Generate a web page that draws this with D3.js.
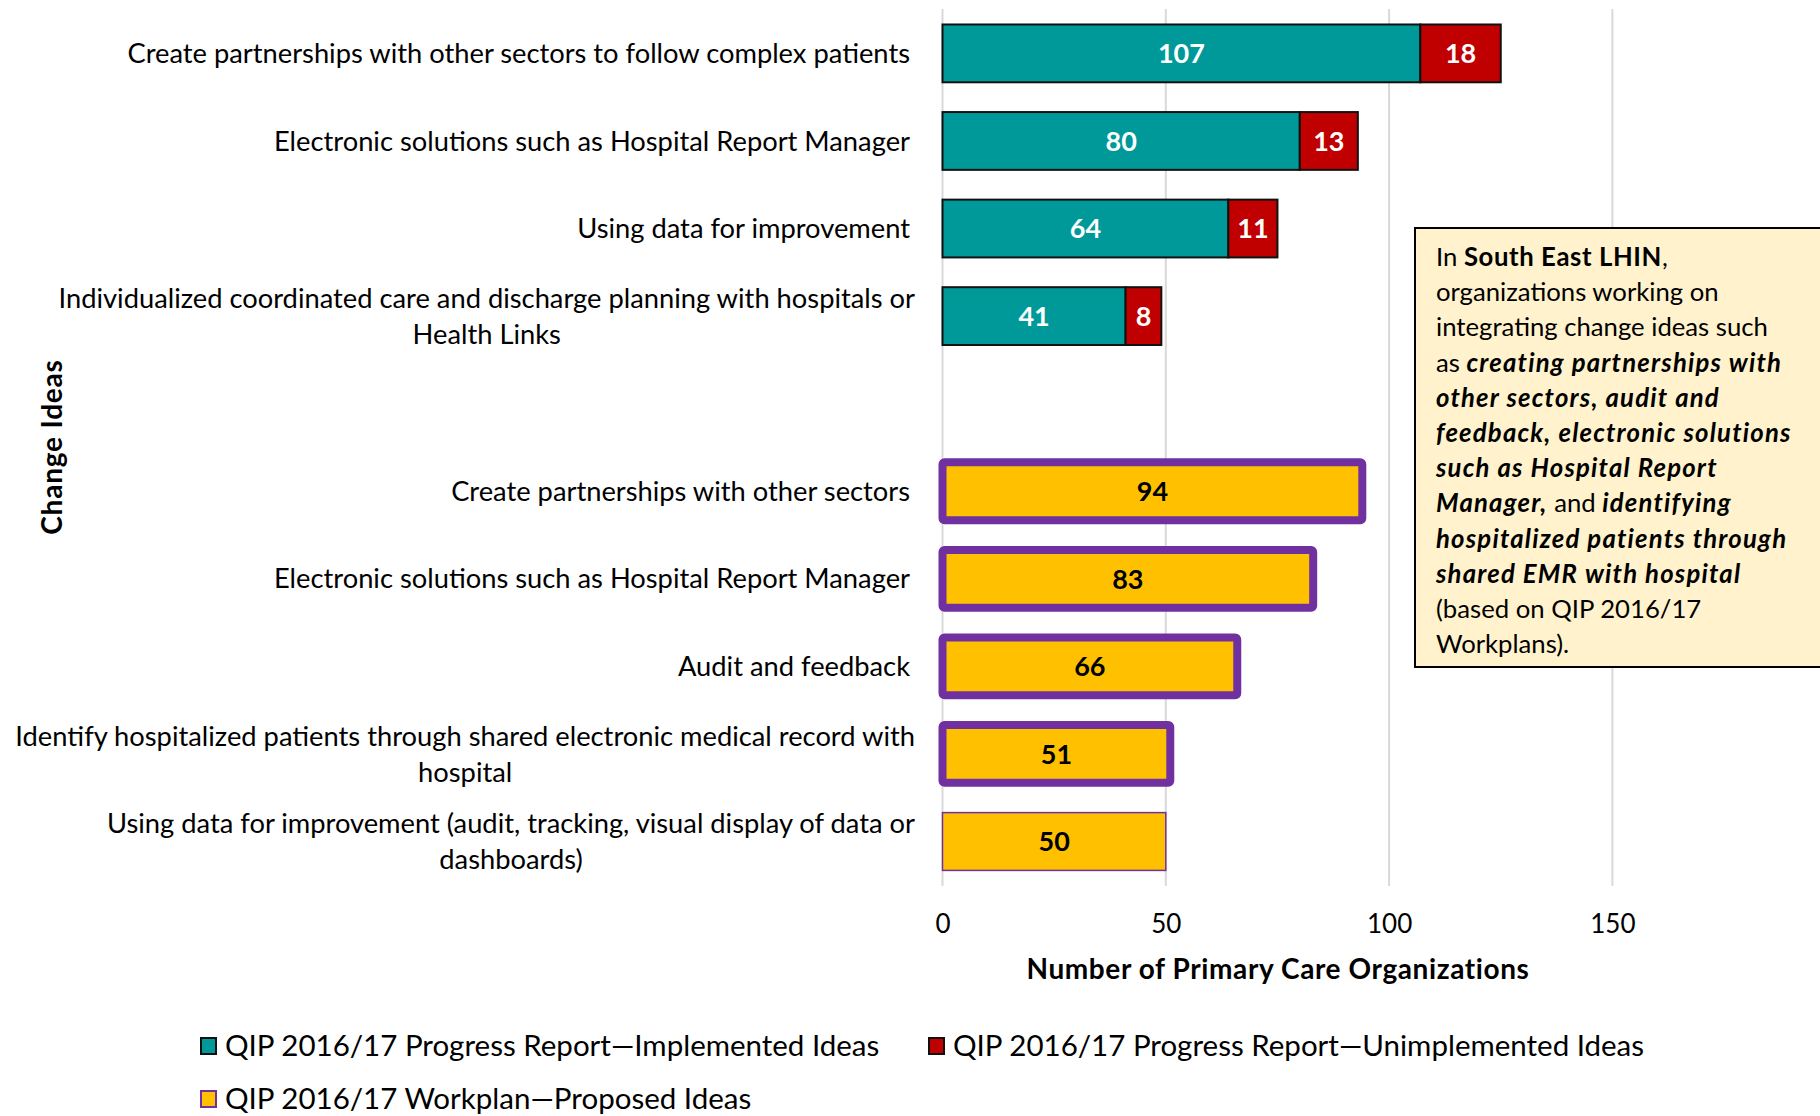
<!DOCTYPE html>
<html>
<head>
<meta charset="utf-8">
<script src="https://cdn.jsdelivr.net/npm/d3@7"></script>
<style>
  body { margin: 0; background: #fff; }
  svg { display: block; font-family: Lato, "Open Sans", sans-serif; }
</style>
</head>
<body>
<div id="chart"></div>
<script>
// rows top to bottom, "gap" is the empty slot between the two groups
var rowIds = ["r1", "r2", "r3", "r4", "gap", "r5", "r6", "r7", "r8", "r9"];

var progressLabels = [
  ["Create partnerships with other sectors to follow complex patients"],
  ["Electronic solutions such as Hospital Report Manager"],
  ["Using data for improvement"],
  ["Individualized coordinated care and discharge planning with hospitals or", "Health Links"]
];
var implemented = [107, 80, 64, 41];
var unimplemented = [18, 13, 11, 8];

var workplanLabels = [
  ["Create partnerships with other sectors"],
  ["Electronic solutions such as Hospital Report Manager"],
  ["Audit and feedback"],
  ["Identify hospitalized patients through shared electronic medical record with", "hospital"],
  ["Using data for improvement (audit, tracking, visual display of data or", "dashboards)"]
];
var proposed = [94, 83, 66, 51, 50];
// the last workplan bar only has a thin outline in the original
var proposedStroke = [8, 8, 8, 8, 1.5];

var xTicks = [0, 50, 100, 150];
var legendItems = [
  "QIP 2016/17 Progress Report\u2014Implemented Ideas",
  "QIP 2016/17 Progress Report\u2014Unimplemented Ideas",
  "QIP 2016/17 Workplan\u2014Proposed Ideas"
];

var width = 1820;
var height = 1116;

var teal = "#009999", red = "#C00000", gold = "#FFC000", purple = "#7030A0";

var svg = d3.select("#chart").append("svg")
  .attr("width", width)
  .attr("height", height);

var x = d3.scaleLinear().domain([0, 200]).range([942.5, 1835.7]);
var y = d3.scaleBand().domain(rowIds).range([9.6, 885.3])
  .paddingInner(0.34).paddingOuter(0.17);
var bw = y.bandwidth();

/* gridlines */
svg.append("g").selectAll("line")
  .data(xTicks.concat([200]))
  .enter().append("line")
  .attr("x1", d => x(d)).attr("x2", d => x(d))
  .attr("y1", 9).attr("y2", 886)
  .attr("stroke", "#D9D9D9").attr("stroke-width", 2);

/* axis */
var xAxis = svg.append("g")
  .attr("transform", "translate(0,886)")
  .call(d3.axisBottom(x).tickValues(xTicks).tickSize(0).tickPadding(29));
xAxis.select(".domain").remove();
xAxis.selectAll("text")
  .attr("font-family", "Lato, sans-serif")
  .attr("font-size", 26).attr("fill", "#000");

/* progress report bars */
var progress = progressLabels.map((l, i) => ({
  id: rowIds[i], label: l, impl: implemented[i], unimpl: unimplemented[i]
}));
var pg = svg.append("g").selectAll("g").data(progress).enter().append("g");
pg.append("rect")
  .attr("x", x(0)).attr("y", d => y(d.id))
  .attr("width", d => x(d.impl) - x(0)).attr("height", bw)
  .attr("fill", teal).attr("stroke", "#111").attr("stroke-width", 2);
pg.append("rect")
  .attr("x", d => x(d.impl)).attr("y", d => y(d.id))
  .attr("width", d => x(d.impl + d.unimpl) - x(d.impl)).attr("height", bw)
  .attr("fill", red).attr("stroke", "#111").attr("stroke-width", 2);
pg.append("text")
  .attr("x", d => x(d.impl / 2)).attr("y", d => y(d.id) + bw / 2)
  .attr("dy", "0.36em").attr("text-anchor", "middle")
  .attr("font-size", 27).attr("font-weight", "bold").attr("fill", "#fff")
  .text(d => d.impl);
pg.append("text")
  .attr("x", d => x(d.impl + d.unimpl / 2)).attr("y", d => y(d.id) + bw / 2)
  .attr("dy", "0.36em").attr("text-anchor", "middle")
  .attr("font-size", 27).attr("font-weight", "bold").attr("fill", "#fff")
  .text(d => d.unimpl);

/* workplan bars */
var work = workplanLabels.map((l, i) => ({
  id: rowIds[i + 5], label: l, val: proposed[i], sw: proposedStroke[i]
}));
var wg = svg.append("g").selectAll("g").data(work).enter().append("g");
wg.append("rect")
  .attr("x", x(0)).attr("y", d => y(d.id))
  .attr("width", d => x(d.val) - x(0)).attr("height", bw)
  .attr("fill", gold).attr("stroke", purple)
  .attr("stroke-width", d => d.sw).attr("rx", d => d.sw > 2 ? 2 : 0);
wg.append("text")
  .attr("x", d => x(d.val / 2)).attr("y", d => y(d.id) + bw / 2)
  .attr("dy", "0.36em").attr("text-anchor", "middle")
  .attr("font-size", 27).attr("font-weight", "bold").attr("fill", "#000")
  .text(d => d.val);

/* category labels (multi-line ones are centred on their longest line) */
var labelRight = 910;
var allRows = progress.map(d => ({ id: d.id, label: d.label }))
  .concat(work.map(d => ({ id: d.id, label: d.label })));
allRows.forEach(function (row) {
  var cy = y(row.id) + bw / 2;
  var n = row.label.length;
  var t = svg.append("text")
    .attr("font-size", 27.3).attr("fill", "#000");
  row.label.forEach(function (line, j) {
    t.append("tspan")
      .attr("y", cy + (j - (n - 1) / 2) * 36)
      .attr("dy", "0.35em")
      .text(line);
  });
  if (n === 1) {
    t.attr("text-anchor", "end").selectAll("tspan").attr("x", labelRight);
  } else {
    var w = t.select("tspan").node().getComputedTextLength();
    t.attr("text-anchor", "middle").selectAll("tspan").attr("x", labelRight + 5 - w / 2);
  }
});

/* axis titles */
svg.append("text")
  .attr("x", 1278).attr("y", 969).attr("dy", "0.35em")
  .attr("text-anchor", "middle")
  .attr("font-size", 28).attr("font-weight", "bold")
  .attr("letter-spacing", 0.6)
  .text("Number of Primary Care Organizations");
svg.append("text")
  .attr("transform", "translate(52,447) rotate(-90)")
  .attr("dy", "0.35em").attr("text-anchor", "middle")
  .attr("font-size", 28).attr("font-weight", "bold")
  .attr("letter-spacing", 0.8)
  .text("Change Ideas");

/* annotation box */
var note = [
  [["In ", ""], ["South East LHIN", "b"], [",", ""]],
  [["organizations working on", ""]],
  [["integrating change ideas such", ""]],
  [["as ", ""], ["creating partnerships with", "bi"]],
  [["other sectors, audit and", "bi"]],
  [["feedback, electronic solutions", "bi"]],
  [["such as Hospital Report", "bi"]],
  [["Manager,", "bi"], [" and ", ""], ["identifying", "bi"]],
  [["hospitalized patients through", "bi"]],
  [["shared EMR with hospital", "bi"]],
  [["(based on QIP 2016/17", ""]],
  [["Workplans).", ""]]
];
svg.append("rect")
  .attr("x", 1415).attr("y", 228).attr("width", 420).attr("height", 439)
  .attr("fill", "#FFF2CC").attr("stroke", "#000").attr("stroke-width", 2);
var noteText = svg.append("text").attr("font-size", 25.7).attr("fill", "#000");
note.forEach(function (line, i) {
  line.forEach(function (seg, k) {
    var ts = noteText.append("tspan").text(seg[0])
      .attr("font-weight", seg[1].indexOf("b") >= 0 ? "bold" : "normal")
      .attr("font-style", seg[1].indexOf("i") >= 0 ? "italic" : "normal")
      .attr("letter-spacing", seg[1] === "bi" ? 1.2 : (seg[1] === "b" ? 0.6 : 0));
    if (k === 0) ts.attr("x", 1436).attr("y", 257 + i * 35.2).attr("dy", "0.35em");
  });
});

/* legend */
var legendPos = [[201, 1046], [929, 1046], [201, 1099]];
var legendFill = [teal, red, gold];
var legendStroke = ["#111", "#111", purple];
var lg = svg.append("g").selectAll("g").data(legendItems).enter().append("g")
  .attr("transform", (d, i) => "translate(" + legendPos[i][0] + "," + legendPos[i][1] + ")");
lg.append("rect")
  .attr("x", 0).attr("y", -8).attr("width", 15).attr("height", 16)
  .attr("fill", (d, i) => legendFill[i])
  .attr("stroke", (d, i) => legendStroke[i]).attr("stroke-width", 2);
lg.append("text")
  .attr("x", 24).attr("dy", "0.35em")
  .attr("font-size", 29.5).attr("fill", "#000")
  .text(d => d);
</script>
</body>
</html>
